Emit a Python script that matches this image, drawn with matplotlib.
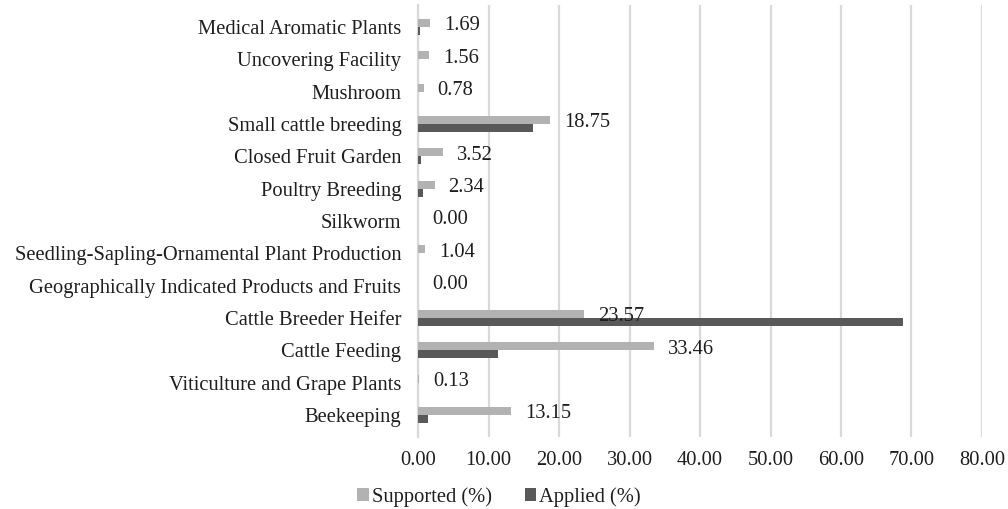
import matplotlib
matplotlib.use("Agg")
import matplotlib.pyplot as plt
import numpy as np

categories = [
    "Medical Aromatic Plants",
    "Uncovering Facility",
    "Mushroom",
    "Small cattle breeding",
    "Closed Fruit Garden",
    "Poultry Breeding",
    "Silkworm",
    "Seedling-Sapling-Ornamental Plant Production",
    "Geographically Indicated Products and Fruits",
    "Cattle Breeder Heifer",
    "Cattle Feeding",
    "Viticulture and Grape Plants",
    "Beekeeping",
]
supported = [1.69, 1.56, 0.78, 18.75, 3.52, 2.34, 0.00, 1.04, 0.00, 23.57, 33.46, 0.13, 13.15]
applied = [0.3, 0.0, 0.0, 16.27, 0.4, 0.7, 0.0, 0.0, 0.0, 68.75, 11.3, 0.0, 1.46]
xticks = [0, 10, 20, 30, 40, 50, 60, 70, 80]

plt.rcParams["font.family"] = ["Liberation Serif", "DejaVu Serif"]
FS = 14.8
TXT = "#1e1e1e"

fig = plt.figure(figsize=(10.08, 5.09), dpi=100)
ax = fig.add_axes([0.4147, 0.1415, 0.5595, 0.8485])

y = np.arange(len(categories))
h = 0.25
ax.barh(y - h / 2, supported, height=h, color="#b2b2b2", label="Supported (%)", zorder=3)
ax.barh(y + h / 2, applied, height=h, color="#595959", label="Applied (%)", zorder=3)

for yi, v in zip(y, supported):
    ax.text(v + 2.0, yi - 0.04, f"{v:.2f}", va="center", ha="left", fontsize=FS,
            color=TXT, zorder=4)

ax.set_xlim(0, 80)
ax.set_ylim(len(categories) - 0.32, -0.68)
ax.set_yticks(y)
ax.set_yticklabels(categories, fontsize=FS, color=TXT)
ax.set_xticks(xticks)
ax.set_xticklabels([f"{t:.2f}" for t in xticks], fontsize=FS, color=TXT)
ax.tick_params(axis="y", length=0, pad=12)
ax.tick_params(axis="x", length=0, pad=10)
ax.grid(axis="x", color="#d9d9d9", lw=1.6, zorder=0)

for side in ("top", "right", "bottom"):
    ax.spines[side].set_visible(False)
ax.spines["left"].set_color("#d9d9d9")
ax.spines["left"].set_linewidth(1.6)

fig.legend(loc="lower center", bbox_to_anchor=(0.495, -0.032), ncol=2, frameon=False,
           fontsize=FS, handlelength=0.55, handleheight=0.55, handletextpad=0.15,
           columnspacing=1.6, labelcolor=TXT)

fig.savefig("out.png", dpi=100)
